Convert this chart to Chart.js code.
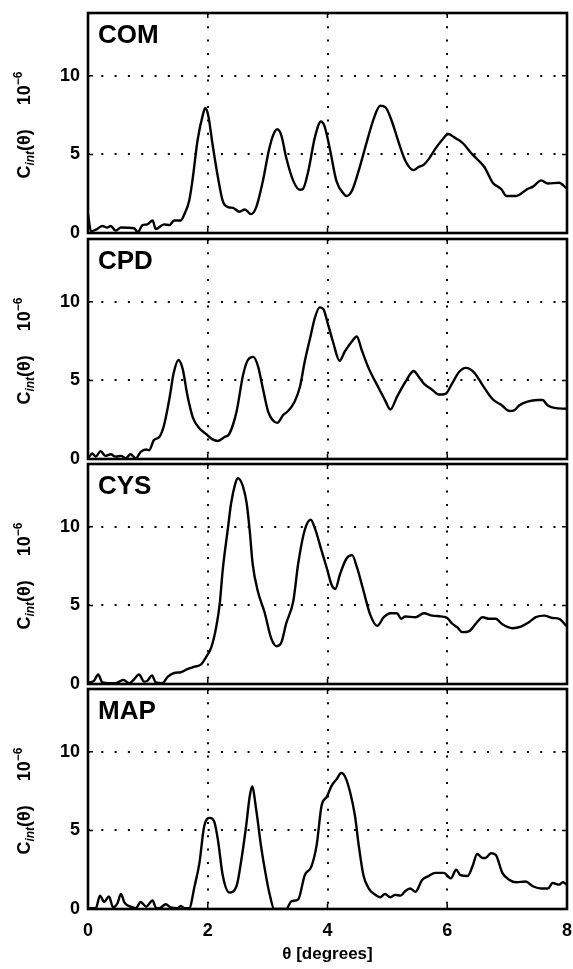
<!DOCTYPE html>
<html>
<head>
<meta charset="utf-8">
<script src="https://cdn.jsdelivr.net/npm/chart.js@4.4.0/dist/chart.umd.min.js"></script>
<style>
html, body { margin: 0; padding: 0; background: #fff; }
#wrap { position: relative; width: 573px; height: 969px; overflow: hidden; }
#wrap canvas { position: absolute; left: 0; }
</style>
</head>
<body>
<div id="wrap">
	<canvas id="p0" width="573" height="242" style="top:2px"></canvas>
	<canvas id="p1" width="573" height="242" style="top:228px"></canvas>
	<canvas id="p2" width="573" height="242" style="top:453px"></canvas>
	<canvas id="p3" width="573" height="291" style="top:678px"></canvas>
</div>
<script>
// axis ticks shared by all four panels
var xTicks = [0, 2, 4, 6, 8];
var yTicks = [0, 5, 10];

// COM
var comTheta = [0, 0.05, 0.15, 0.24, 0.32, 0.38, 0.46, 0.55, 0.77, 0.83,
	0.91, 0.99, 1.08, 1.13, 1.27, 1.36, 1.44, 1.55, 1.61, 1.69,
	1.75, 1.83, 1.92, 1.96, 2.01, 2.08, 2.17, 2.25, 2.34, 2.42,
	2.53, 2.62, 2.72, 2.81, 2.92, 3.02, 3.09, 3.16, 3.23, 3.31,
	3.43, 3.54, 3.59, 3.68, 3.79, 3.89, 3.95, 4.04, 4.15, 4.27,
	4.32, 4.41, 4.52, 4.66, 4.77, 4.88, 4.97, 5.08, 5.19, 5.30,
	5.44, 5.52, 5.61, 5.69, 5.80, 5.92, 6.02, 6.11, 6.25, 6.42,
	6.62, 6.76, 6.90, 6.99, 7.15, 7.23, 7.34, 7.43, 7.57, 7.68,
	7.87, 7.99];
var comValue = [1.2, 0.1, 0.25, 0.45, 0.35, 0.45, 0.15, 0.35, 0.3, 0.05,
	0.5, 0.55, 0.8, 0.25, 0.55, 0.5, 0.8, 0.8, 1.2, 2.05,
	3.5, 5.9, 7.55, 7.95, 7.45, 5.65, 3.55, 2.05, 1.65, 1.6,
	1.35, 1.5, 1.2, 1.65, 3.3, 5.25, 6.2, 6.6, 6.2, 4.8,
	3.3, 2.75, 2.8, 3.95, 6.1, 7.1, 6.8, 5.35, 3.3, 2.5,
	2.35, 2.7, 3.95, 5.85, 7.25, 8.1, 8.0, 7.05, 5.75, 4.6,
	4.0, 4.2, 4.35, 4.7, 5.35, 5.95, 6.3, 6.1, 5.75, 5.0,
	4.2, 3.2, 2.8, 2.35, 2.35, 2.5, 2.8, 2.95, 3.35, 3.15,
	3.2, 2.85];

// CPD
var cpdTheta = [0.01, 0.07, 0.13, 0.21, 0.29, 0.38, 0.46, 0.55, 0.63, 0.71,
	0.80, 0.88, 0.97, 1.02, 1.10, 1.19, 1.27, 1.36, 1.43, 1.51,
	1.58, 1.66, 1.75, 1.86, 1.97, 2.08, 2.17, 2.28, 2.36, 2.48,
	2.59, 2.67, 2.76, 2.84, 2.92, 3.01, 3.09, 3.16, 3.26, 3.34,
	3.45, 3.54, 3.62, 3.71, 3.79, 3.87, 3.93, 4.01, 4.10, 4.20,
	4.29, 4.41, 4.49, 4.57, 4.69, 4.83, 4.96, 5.05, 5.16, 5.30,
	5.44, 5.52, 5.61, 5.75, 5.86, 5.97, 6.08, 6.20, 6.31, 6.45,
	6.59, 6.76, 6.90, 7.04, 7.12, 7.20, 7.34, 7.51, 7.59, 7.68,
	7.79, 7.99];
var cpdValue = [0.1, 0.35, 0.15, 0.5, 0.2, 0.3, 0.15, 0.2, 0.05, 0.3,
	0.05, 0.45, 0.6, 0.55, 1.2, 1.4, 2.15, 3.85, 5.45, 6.3,
	5.75, 4.05, 2.65, 1.95, 1.6, 1.25, 1.15, 1.4, 1.6, 3.0,
	5.35, 6.3, 6.5, 5.9, 4.5, 3.0, 2.45, 2.3, 2.8, 3.05,
	3.65, 4.6, 6.2, 7.7, 9.0, 9.65, 9.55, 8.55, 7.35, 6.25,
	6.85, 7.5, 7.8, 6.95, 5.75, 4.7, 3.75, 3.15, 3.95, 4.9,
	5.6, 5.25, 4.8, 4.4, 4.1, 4.15, 4.8, 5.55, 5.8, 5.5,
	4.7, 3.8, 3.45, 3.05, 3.1, 3.4, 3.65, 3.75, 3.75, 3.4,
	3.25, 3.2];

// CYS
var cysTheta = [0.01, 0.10, 0.17, 0.24, 0.35, 0.46, 0.59, 0.69, 0.77, 0.85,
	0.94, 0.99, 1.07, 1.13, 1.24, 1.33, 1.44, 1.55, 1.66, 1.78,
	1.89, 1.97, 2.06, 2.14, 2.20, 2.25, 2.34, 2.39, 2.46, 2.50,
	2.59, 2.65, 2.70, 2.75, 2.84, 2.95, 3.06, 3.15, 3.23, 3.31,
	3.43, 3.51, 3.62, 3.72, 3.79, 3.90, 3.99, 4.07, 4.13, 4.21,
	4.32, 4.41, 4.49, 4.60, 4.71, 4.83, 4.94, 5.05, 5.16, 5.23,
	5.30, 5.47, 5.61, 5.75, 5.89, 6.00, 6.08, 6.17, 6.25, 6.36,
	6.48, 6.59, 6.70, 6.81, 6.92, 7.09, 7.23, 7.37, 7.48, 7.62,
	7.76, 7.87, 7.99];
var cysValue = [0.1, 0.2, 0.6, 0.1, 0.05, 0.05, 0.25, 0.05, 0.3, 0.6,
	0.15, 0.2, 0.55, 0.1, 0.05, 0.45, 0.7, 0.75, 0.95, 1.1,
	1.25, 1.7, 2.35, 3.6, 5.1, 7.25, 10.0, 11.5, 12.75, 13.1,
	12.55, 11.5, 9.8, 7.65, 5.85, 4.55, 2.9, 2.4, 2.65, 3.85,
	5.3, 7.65, 9.8, 10.45, 9.9, 8.5, 7.35, 6.3, 6.05, 7.0,
	8.0, 8.2, 7.45, 5.95, 4.45, 3.7, 4.25, 4.5, 4.5, 4.15,
	4.3, 4.25, 4.5, 4.35, 4.3, 4.2, 3.85, 3.6, 3.3, 3.35,
	3.85, 4.25, 4.15, 4.15, 3.8, 3.55, 3.65, 3.95, 4.25, 4.35,
	4.2, 4.15, 3.7];

// MAP
var mapTheta = [0.01, 0.13, 0.20, 0.27, 0.35, 0.42, 0.49, 0.55, 0.61, 0.71,
	0.80, 0.88, 0.97, 1.08, 1.13, 1.19, 1.30, 1.38, 1.50, 1.55,
	1.61, 1.69, 1.78, 1.86, 1.94, 2.04, 2.11, 2.17, 2.25, 2.36,
	2.48, 2.56, 2.64, 2.70, 2.74, 2.81, 2.89, 2.98, 3.03, 3.11,
	3.31, 3.40, 3.51, 3.62, 3.73, 3.82, 3.90, 3.99, 4.07, 4.15,
	4.23, 4.29, 4.38, 4.46, 4.52, 4.60, 4.69, 4.80, 4.88, 4.96,
	5.05, 5.13, 5.22, 5.30, 5.38, 5.47, 5.58, 5.69, 5.80, 5.94,
	6.06, 6.15, 6.22, 6.34, 6.42, 6.50, 6.59, 6.64, 6.73, 6.81,
	6.92, 7.04, 7.15, 7.31, 7.43, 7.57, 7.68, 7.76, 7.87, 7.93,
	8.00];
var mapValue = [0.05, 0.05, 0.85, 0.45, 0.8, 0.1, 0.35, 0.95, 0.4, 0.15,
	0.05, 0.45, 0.15, 0.55, 0.1, 0.05, 0.3, 0.1, 0.05, 0.2,
	0.05, 0.05, 1.45, 2.9, 5.25, 5.8, 5.55, 4.4, 2.15, 1.05,
	1.45, 3.1, 5.25, 7.15, 7.8, 6.3, 4.0, 1.95, 1.0, 0,
	0, 0.5, 0.6, 2.15, 2.7, 4.1, 6.55, 7.15, 7.85, 8.25,
	8.65, 8.45, 7.4, 5.9, 4.1, 2.15, 1.3, 0.9, 0.75, 0.95,
	0.75, 0.9, 0.85, 1.15, 1.3, 1.1, 1.85, 2.1, 2.3, 2.3,
	1.95, 2.5, 2.15, 2.1, 2.7, 3.5, 3.25, 3.25, 3.55, 3.45,
	2.3, 1.85, 1.7, 1.75, 1.45, 1.3, 1.3, 1.65, 1.55, 1.7,
	1.55];

var fontFamily = '"Liberation Sans", Arial, Helvetica, sans-serif';

// frame, inward ticks, panel name and the rotated y-axis label
var panelFrame = {
	id: 'panelFrame',
	afterDraw: function (chart, args, opts) {
		var ctx = chart.ctx;
		var a = chart.chartArea;
		var sx = chart.scales.x, sy = chart.scales.y;
		ctx.save();
		ctx.strokeStyle = '#000';
		ctx.lineWidth = 1.5;
		ctx.beginPath();
		xTicks.forEach(function (v) {
			var px = sx.getPixelForValue(v);
			ctx.moveTo(px, a.top); ctx.lineTo(px, a.top + 5);
			ctx.moveTo(px, a.bottom); ctx.lineTo(px, a.bottom - 5);
		});
		yTicks.forEach(function (v) {
			var py = sy.getPixelForValue(v);
			ctx.moveTo(a.left, py); ctx.lineTo(a.left + 5, py);
			ctx.moveTo(a.right, py); ctx.lineTo(a.right - 5, py);
		});
		ctx.stroke();
		ctx.lineWidth = 2.6;
		ctx.strokeRect(a.left, a.top, a.right - a.left, a.bottom - a.top);

		ctx.fillStyle = '#000';
		ctx.textBaseline = 'alphabetic';
		ctx.textAlign = 'left';
		ctx.font = 'bold 26px ' + fontFamily;
		ctx.fillText(opts.label, a.left + 10, a.top + 30);

		// C_int(θ)   10^-6, reading upward
		var mainFont = 'bold 18px ' + fontFamily;
		var subFont = 'italic bold 12px ' + fontFamily;
		var supFont = 'bold 12px ' + fontFamily;
		var parts = [
			{ t: 'C', f: mainFont, dy: 0 },
			{ t: 'int', f: subFont, dy: 4 },
			{ t: '(θ)', f: mainFont, dy: 0, gap: 24 },
			{ t: '10', f: mainFont, dy: 0 },
			{ t: '\u22126', f: supFont, dy: -8 }
		];
		var total = 0;
		parts.forEach(function (p) {
			ctx.font = p.f;
			p.w = ctx.measureText(p.t).width;
			total += p.w + (p.gap || 0);
		});
		ctx.translate(30, (a.top + a.bottom) / 2 + 2);
		ctx.rotate(-Math.PI / 2);
		var cx = -total / 2;
		parts.forEach(function (p) {
			ctx.font = p.f;
			ctx.fillText(p.t, cx, p.dy);
			cx += p.w + (p.gap || 0);
		});
		ctx.restore();
	}
};

function gridColor(ends) {
	return function (c) {
		if (c.tick && ends.indexOf(c.tick.value) >= 0) return 'rgba(0,0,0,0)';
		return '#000';
	};
}

function makePanel(id, label, theta, values, isBottom) {
	var points = theta.map(function (t, i) { return { x: t, y: values[i] }; });
	return new Chart(document.getElementById(id), {
		type: 'line',
		data: {
			datasets: [{
				data: points,
				borderColor: '#000',
				borderWidth: 2.4,
				pointRadius: 0,
				fill: false,
				cubicInterpolationMode: 'monotone'
			}]
		},
		options: {
			responsive: false,
			animation: false,
			events: [],
			layout: { padding: { top: 11, right: 6, bottom: 0, left: 0 } },
			plugins: {
				legend: { display: false },
				tooltip: { enabled: false },
				panelFrame: { label: label }
			},
			scales: {
				x: {
					type: 'linear',
					min: 0,
					max: 8,
					afterBuildTicks: function (s) { s.ticks = xTicks.map(function (v) { return { value: v }; }); },
					afterFit: function (s) {
						s.height = isBottom ? 60 : 11;
						s.paddingLeft = 0;
						s.paddingRight = 0;
					},
					border: { display: false, dash: [2, 11.3] },
					grid: { color: gridColor([0, 8]), lineWidth: 2, drawTicks: false },
					ticks: {
						display: isBottom,
						padding: 11,
						color: '#000',
						maxRotation: 0,
						font: { family: fontFamily, size: 18, weight: 'bold' }
					},
					title: {
						display: isBottom,
						text: 'θ [degrees]',
						color: '#000',
						font: { family: fontFamily, size: 17, weight: 'bold' },
						padding: { top: 0, bottom: 4 }
					}
				},
				y: {
					min: 0,
					max: 14,
					afterBuildTicks: function (s) { s.ticks = yTicks.map(function (v) { return { value: v }; }); },
					afterFit: function (s) {
						s.width = 88;
						s.paddingTop = 0;
						s.paddingBottom = 0;
					},
					border: { display: false, dash: [2, 11.3] },
					grid: { color: gridColor([0]), lineWidth: 2, drawTicks: false },
					ticks: {
						padding: 8,
						color: '#000',
						font: { family: fontFamily, size: 18, weight: 'bold' }
					}
				}
			}
		},
		plugins: [panelFrame]
	});
}

makePanel('p0', 'COM', comTheta, comValue, false);
makePanel('p1', 'CPD', cpdTheta, cpdValue, false);
makePanel('p2', 'CYS', cysTheta, cysValue, false);
makePanel('p3', 'MAP', mapTheta, mapValue, true);
</script>
</body>
</html>
